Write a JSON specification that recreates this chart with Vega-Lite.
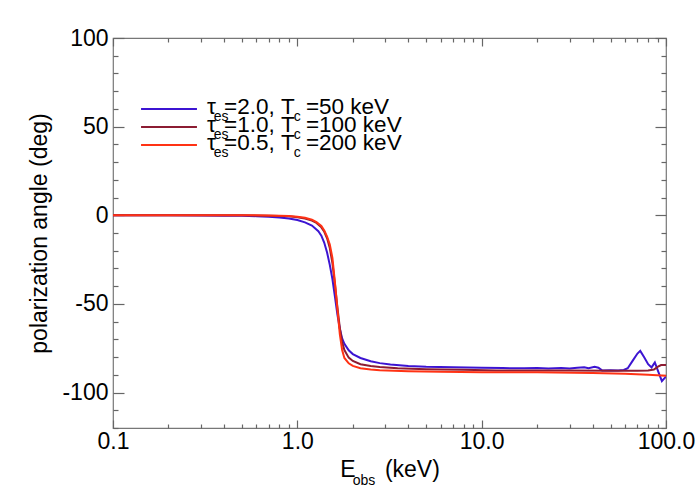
{
  "$schema": "https://vega.github.io/schema/vega-lite/v6.json",
  "width": 553,
  "height": 390,
  "autosize": "none",
  "padding": {"left": 113, "top": 38, "right": 34, "bottom": 72},
  "background": "white",
  "config": {
    "view": {"stroke": "#777", "strokeWidth": 1.2},
    "font": "Liberation Sans",
    "axis": {"labelFont": "Liberation Sans", "titleFont": "Liberation Sans", "labelColor": "black", "titleColor": "black", "grid": false, "domain": false, "tickColor": "#666", "tickWidth": 1.2}
  },
  "datasets": {
    "curves": [
      {"series": "s1", "E": 0.1, "angle": 0}, {"series": "s1", "E": 0.2, "angle": -0.05}, {"series": "s1", "E": 0.3, "angle": -0.1}, {"series": "s1", "E": 0.4, "angle": -0.2}, {"series": "s1", "E": 0.5, "angle": -0.3}, {"series": "s1", "E": 0.6, "angle": -0.5}, {"series": "s1", "E": 0.7, "angle": -0.8}, {"series": "s1", "E": 0.8, "angle": -1.2}, {"series": "s1", "E": 0.9, "angle": -1.8}, {"series": "s1", "E": 1.0, "angle": -2.7}, {"series": "s1", "E": 1.1, "angle": -4.0}, {"series": "s1", "E": 1.2, "angle": -5.8}, {"series": "s1", "E": 1.3, "angle": -9}, {"series": "s1", "E": 1.35, "angle": -11.5}, {"series": "s1", "E": 1.4, "angle": -15.5}, {"series": "s1", "E": 1.45, "angle": -21}, {"series": "s1", "E": 1.5, "angle": -28}, {"series": "s1", "E": 1.55, "angle": -36}, {"series": "s1", "E": 1.6, "angle": -46}, {"series": "s1", "E": 1.65, "angle": -56}, {"series": "s1", "E": 1.7, "angle": -64}, {"series": "s1", "E": 1.75, "angle": -69.5}, {"series": "s1", "E": 1.8, "angle": -72.5}, {"series": "s1", "E": 1.9, "angle": -76.2}, {"series": "s1", "E": 2.0, "angle": -78.3}, {"series": "s1", "E": 2.2, "angle": -80.5}, {"series": "s1", "E": 2.5, "angle": -82.3}, {"series": "s1", "E": 2.8, "angle": -83.4}, {"series": "s1", "E": 3.2, "angle": -84.2}, {"series": "s1", "E": 4, "angle": -85}, {"series": "s1", "E": 5, "angle": -85.5}, {"series": "s1", "E": 7, "angle": -85.8}, {"series": "s1", "E": 10, "angle": -86}, {"series": "s1", "E": 13, "angle": -86.2}, {"series": "s1", "E": 17, "angle": -86.3}, {"series": "s1", "E": 20, "angle": -86.1}, {"series": "s1", "E": 23, "angle": -86.4}, {"series": "s1", "E": 27, "angle": -86.2}, {"series": "s1", "E": 30, "angle": -86.4}, {"series": "s1", "E": 33, "angle": -86}, {"series": "s1", "E": 36, "angle": -85.7}, {"series": "s1", "E": 38, "angle": -86.3}, {"series": "s1", "E": 41, "angle": -85.5}, {"series": "s1", "E": 43, "angle": -86}, {"series": "s1", "E": 45, "angle": -87.5}, {"series": "s1", "E": 50, "angle": -87.4}, {"series": "s1", "E": 55, "angle": -87.6}, {"series": "s1", "E": 59, "angle": -87.3}, {"series": "s1", "E": 62, "angle": -86.3}, {"series": "s1", "E": 66, "angle": -82}, {"series": "s1", "E": 70, "angle": -78}, {"series": "s1", "E": 72.5, "angle": -76.5}, {"series": "s1", "E": 76, "angle": -80}, {"series": "s1", "E": 80, "angle": -84}, {"series": "s1", "E": 83.5, "angle": -85.8}, {"series": "s1", "E": 87, "angle": -83}, {"series": "s1", "E": 91, "angle": -88.5}, {"series": "s1", "E": 95, "angle": -93.5}, {"series": "s1", "E": 100, "angle": -91},
      {"series": "s2", "E": 0.1, "angle": 0}, {"series": "s2", "E": 0.3, "angle": 0}, {"series": "s2", "E": 0.5, "angle": -0.05}, {"series": "s2", "E": 0.7, "angle": -0.2}, {"series": "s2", "E": 0.8, "angle": -0.35}, {"series": "s2", "E": 0.9, "angle": -0.6}, {"series": "s2", "E": 1.0, "angle": -1.1}, {"series": "s2", "E": 1.1, "angle": -1.8}, {"series": "s2", "E": 1.2, "angle": -3.0}, {"series": "s2", "E": 1.27, "angle": -4.3}, {"series": "s2", "E": 1.35, "angle": -6.8}, {"series": "s2", "E": 1.4, "angle": -9.3}, {"series": "s2", "E": 1.45, "angle": -13}, {"series": "s2", "E": 1.5, "angle": -18.5}, {"series": "s2", "E": 1.55, "angle": -27}, {"series": "s2", "E": 1.6, "angle": -39}, {"series": "s2", "E": 1.65, "angle": -52}, {"series": "s2", "E": 1.7, "angle": -63.5}, {"series": "s2", "E": 1.75, "angle": -71.5}, {"series": "s2", "E": 1.8, "angle": -76}, {"series": "s2", "E": 1.9, "angle": -80.3}, {"series": "s2", "E": 2.0, "angle": -82.2}, {"series": "s2", "E": 2.2, "angle": -84}, {"series": "s2", "E": 2.5, "angle": -85}, {"series": "s2", "E": 2.8, "angle": -85.6}, {"series": "s2", "E": 3.5, "angle": -86.3}, {"series": "s2", "E": 5, "angle": -86.8}, {"series": "s2", "E": 8, "angle": -87.2}, {"series": "s2", "E": 12, "angle": -87.5}, {"series": "s2", "E": 20, "angle": -87.5}, {"series": "s2", "E": 30, "angle": -87.6}, {"series": "s2", "E": 50, "angle": -87.7}, {"series": "s2", "E": 70, "angle": -87.7}, {"series": "s2", "E": 80, "angle": -87.5}, {"series": "s2", "E": 86, "angle": -87}, {"series": "s2", "E": 90, "angle": -85.5}, {"series": "s2", "E": 94, "angle": -84.5}, {"series": "s2", "E": 100, "angle": -84.5},
      {"series": "s3", "E": 0.1, "angle": 0}, {"series": "s3", "E": 0.5, "angle": 0}, {"series": "s3", "E": 0.7, "angle": -0.1}, {"series": "s3", "E": 0.8, "angle": -0.2}, {"series": "s3", "E": 0.9, "angle": -0.4}, {"series": "s3", "E": 1.0, "angle": -0.8}, {"series": "s3", "E": 1.1, "angle": -1.4}, {"series": "s3", "E": 1.2, "angle": -2.5}, {"series": "s3", "E": 1.27, "angle": -3.9}, {"series": "s3", "E": 1.35, "angle": -6}, {"series": "s3", "E": 1.4, "angle": -8.6}, {"series": "s3", "E": 1.45, "angle": -12}, {"series": "s3", "E": 1.5, "angle": -16.5}, {"series": "s3", "E": 1.55, "angle": -24}, {"series": "s3", "E": 1.6, "angle": -38}, {"series": "s3", "E": 1.65, "angle": -53}, {"series": "s3", "E": 1.7, "angle": -67}, {"series": "s3", "E": 1.75, "angle": -76}, {"series": "s3", "E": 1.8, "angle": -80.5}, {"series": "s3", "E": 1.9, "angle": -83.5}, {"series": "s3", "E": 2.0, "angle": -85}, {"series": "s3", "E": 2.2, "angle": -86.3}, {"series": "s3", "E": 2.5, "angle": -87}, {"series": "s3", "E": 2.8, "angle": -87.4}, {"series": "s3", "E": 4, "angle": -88}, {"series": "s3", "E": 6, "angle": -88.3}, {"series": "s3", "E": 10, "angle": -88.5}, {"series": "s3", "E": 20, "angle": -88.6}, {"series": "s3", "E": 40, "angle": -89}, {"series": "s3", "E": 60, "angle": -89.4}, {"series": "s3", "E": 80, "angle": -89.9}, {"series": "s3", "E": 100, "angle": -90.5}
    ],
    "legendtext": [
      {"txt": "τ\u00a0\u200a=2.0, T\u2002=50 keV", "E": 0.3236, "angle": 57.2},
      {"txt": "τ\u00a0\u200a=1.0, T\u2002=100 keV", "E": 0.3236, "angle": 47.0},
      {"txt": "τ\u00a0\u200a=0.5, T\u2002=200 keV", "E": 0.3236, "angle": 36.9}
    ],
    "subs": [
      {"txt": "es", "E": 0.3855, "angle": 52.96},
      {"txt": "es", "E": 0.3855, "angle": 42.8},
      {"txt": "es", "E": 0.3855, "angle": 32.64},
      {"txt": "c", "E": 1.0, "angle": 52.96},
      {"txt": "c", "E": 1.0, "angle": 42.8},
      {"txt": "c", "E": 1.0, "angle": 32.64},
      {"txt": "obs", "E": 2.3, "angle": -152}
    ]
  },
  "layer": [
    {
      "data": {"name": "curves"},
      "mark": {"type": "line", "strokeWidth": 2, "clip": true},
      "encoding": {
        "x": {
          "field": "E", "type": "quantitative",
          "scale": {"type": "log", "domain": [0.1, 100], "nice": false},
          "axis": {
            "orient": "bottom",
            "values": [0.1, 0.2, 0.3, 0.4, 0.5, 0.6, 0.7, 0.8, 0.9, 1, 2, 3, 4, 5, 6, 7, 8, 9, 10, 20, 30, 40, 50, 60, 70, 80, 90, 100],
            "labelExpr": "indexof([0.1, 1, 10, 100], datum.value) >= 0 ? format(datum.value, '.1f') : ''",
            "tickSize": {"condition": {"test": "indexof([0.1, 1, 10, 100], datum.value) >= 0", "value": -8}, "value": -4},
            "labelFlush": false,
            "labelOverlap": false,
            "labelFontSize": 23,
            "labelPadding": 10,
            "title": "E\u2002\u2002\u00a0(keV)",
            "titleFontSize": 23,
            "titleFontWeight": "normal",
            "titlePadding": 1
          }
        },
        "y": {
          "field": "angle", "type": "quantitative",
          "scale": {"domain": [-120, 100], "nice": false, "zero": false},
          "axis": {
            "orient": "left",
            "values": [-120, -110, -100, -90, -80, -70, -60, -50, -40, -30, -20, -10, 0, 10, 20, 30, 40, 50, 60, 70, 80, 90, 100],
            "labelExpr": "datum.value % 50 == 0 ? toString(datum.value) : ''",
            "tickSize": {"condition": {"test": "datum.value % 50 == 0", "value": -11}, "value": -5},
            "labelOverlap": false,
            "labelFlush": false,
            "labelFontSize": 23,
            "labelPadding": 16,
            "title": "polarization angle (deg)",
            "titleFontSize": 23,
            "titleFontWeight": "normal",
            "titlePadding": 10
          }
        },
        "color": {
          "field": "series", "type": "nominal",
          "scale": {"domain": ["s1", "s2", "s3"], "range": ["#3c14d2", "#8c1c32", "#ff3214"]},
          "legend": {
            "orient": "none",
            "legendX": 49,
            "legendY": 64,
            "title": null,
            "padding": 0,
            "symbolType": "M-5,0L5,0",
            "symbolSize": 125,
            "symbolStrokeWidth": 2,
            "labelExpr": "''",
            "labelFontSize": 1,
            "labelOffset": 0,
            "rowPadding": 7
          }
        }
      }
    },
    {
      "data": {"name": "curves"},
      "mark": {"type": "line", "opacity": 0},
      "encoding": {
        "x": {
          "field": "E", "type": "quantitative",
          "scale": {"type": "log", "domain": [0.1, 100], "nice": false},
          "axis": {
            "orient": "top",
            "values": [0.1, 0.2, 0.3, 0.4, 0.5, 0.6, 0.7, 0.8, 0.9, 1, 2, 3, 4, 5, 6, 7, 8, 9, 10, 20, 30, 40, 50, 60, 70, 80, 90, 100],
            "labels": false,
            "title": null,
            "tickSize": {"condition": {"test": "indexof([0.1, 1, 10, 100], datum.value) >= 0", "value": -8}, "value": -4}
          }
        },
        "y": {
          "field": "angle", "type": "quantitative",
          "scale": {"domain": [-120, 100], "nice": false, "zero": false},
          "axis": {
            "orient": "right",
            "values": [-120, -110, -100, -90, -80, -70, -60, -50, -40, -30, -20, -10, 0, 10, 20, 30, 40, 50, 60, 70, 80, 90, 100],
            "labels": false,
            "title": null,
            "tickSize": {"condition": {"test": "datum.value % 50 == 0", "value": -11}, "value": -5}
          }
        },
        "detail": {"field": "series", "type": "nominal"}
      }
    },
    {
      "data": {"name": "legendtext"},
      "mark": {"type": "text", "fontSize": 22.5, "align": "left", "baseline": "alphabetic", "font": "Liberation Sans", "color": "black", "clip": false},
      "encoding": {
        "x": {"field": "E", "type": "quantitative", "scale": {"type": "log", "domain": [0.1, 100], "nice": false}, "axis": null},
        "y": {"field": "angle", "type": "quantitative", "scale": {"domain": [-120, 100], "nice": false, "zero": false}, "axis": null},
        "text": {"field": "txt", "type": "nominal"}
      }
    },
    {
      "data": {"name": "subs"},
      "mark": {"type": "text", "fontSize": 14, "align": "center", "baseline": "alphabetic", "font": "Liberation Sans", "color": "black", "clip": false},
      "encoding": {
        "x": {"field": "E", "type": "quantitative", "scale": {"type": "log", "domain": [0.1, 100], "nice": false}, "axis": null},
        "y": {"field": "angle", "type": "quantitative", "scale": {"domain": [-120, 100], "nice": false, "zero": false}, "axis": null},
        "text": {"field": "txt", "type": "nominal"}
      }
    }
  ],
  "resolve": {"axis": {"x": "independent", "y": "independent"}}
}
